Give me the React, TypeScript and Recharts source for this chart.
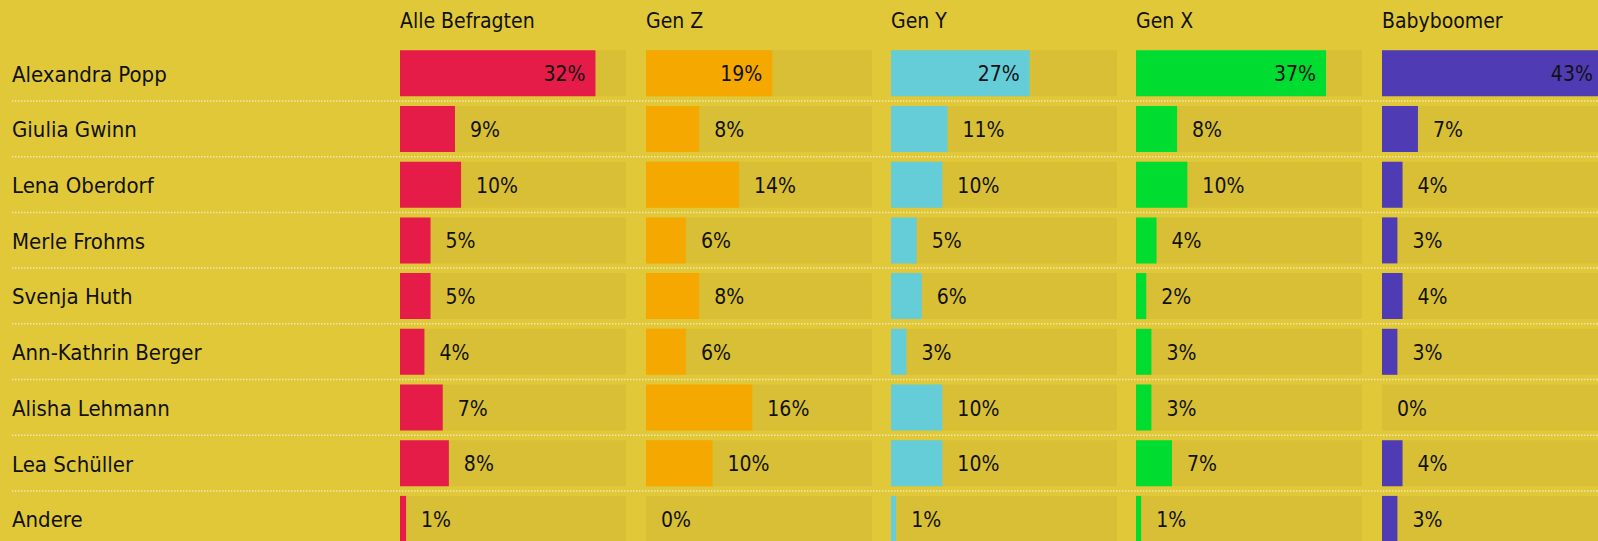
import React from 'react';
import { BarChart, Bar, XAxis, YAxis, CartesianGrid, LabelList } from 'recharts';

// ---- data ----
const players = [
  'Alexandra Popp',
  'Giulia Gwinn',
  'Lena Oberdorf',
  'Merle Frohms',
  'Svenja Huth',
  'Ann-Kathrin Berger',
  'Alisha Lehmann',
  'Lea Schüller',
  'Andere',
];
const groups = ['Alle Befragten', 'Gen Z', 'Gen Y', 'Gen X', 'Babyboomer'];
const alleBefragten = [32, 9, 10, 5, 5, 4, 7, 8, 1];
const genZ = [19, 8, 14, 6, 8, 6, 16, 10, 0];
const genY = [27, 11, 10, 5, 6, 3, 10, 10, 1];
const genX = [37, 8, 10, 4, 2, 3, 3, 7, 1];
const babyboomer = [43, 7, 4, 3, 4, 3, 0, 4, 3];
const groupValues = [alleBefragten, genZ, genY, genX, babyboomer];
const groupColors = ['#E61C48', '#F5A800', '#64CDD8', '#00DC30', '#4F3CB4'];
const axisMax = [37, 34, 44, 44, 44];

// ---- style / layout ----
const W = 1598;
const H = 541;
const CH = 560;
const MT = 45.3;
const BAND = 55.7;
const MB = CH - MT - BAND * players.length;
const BG = '#E0C838';
const TRACK = '#D8BF36';
const FONT = "'Liberation Sans Narrow', 'DejaVu Sans Condensed', 'Roboto Condensed', sans-serif";
const panelLeft = [400, 646, 891, 1136, 1382];
const TRACK_W = 226;
const BAR_H = 46;

const nameData = players.map((name) => ({ name, v: 0 }));

const NameTick = (props: any) => {
  const { y, payload } = props;
  return (
    <text x={12} y={y + 8.5} fontSize={22} fontFamily={FONT} fill="#111" textAnchor="start">
      {payload.value}
    </text>
  );
};

const makeLabel = (inside: number, max: number) => (props: any) => {
  const { x, y, width, height, value } = props;
  const cy = y + height / 2;
  const barEnd = x + (width * value) / max;
  const isIn = value >= inside;
  return (
    <text
      x={isIn ? barEnd - 10 : barEnd + 15}
      y={cy + 8}
      fontSize={21}
      fontFamily={FONT}
      fill="#111"
      textAnchor={isIn ? 'end' : 'start'}
    >
      {`${value}%`}
    </text>
  );
};

const gridGen = (args: any) => {
  const yAxis = args.yAxis;
  const out: number[] = [];
  for (let i = 1; i < players.length; i++) {
    let c: number | undefined;
    try {
      const s = yAxis && yAxis.scale;
      const v = s ? s(players[i]) : undefined;
      if (typeof v === 'number' && !isNaN(v)) c = v;
    } catch (e) {
      c = undefined;
    }
    if (c === undefined) c = args.offset.top + (i * args.offset.height) / players.length;
    out.push(c);
  }
  return out;
};

export default function App() {
  return (
    <div
      style={{
        position: 'absolute',
        left: 0,
        top: 0,
        width: W,
        height: H,
        background: BG,
        overflow: 'hidden',
      }}
    >
      {/* names + separators */}
      <div style={{ position: 'absolute', left: 0, top: 0 }}>
        <BarChart
          width={W}
          height={CH}
          data={nameData}
          layout="vertical"
          margin={{ top: MT, right: 0, bottom: MB, left: 0 }}
          barCategoryGap={0}
        >
          <CartesianGrid
            vertical={false}
            stroke="#EFE6B4"
            strokeWidth={1.5}
            strokeDasharray="1.5 1.5"
            horizontalCoordinatesGenerator={gridGen}
          />
          <XAxis type="number" hide domain={[0, 1]} />
          <YAxis
            type="category"
            dataKey="name"
            width={12}
            axisLine={false}
            tickLine={false}
            tick={<NameTick />}
            interval={0}
          />
          <Bar dataKey="v" fill="transparent" isAnimationActive={false} />
        </BarChart>
      </div>

      {/* headers */}
      <svg style={{ position: 'absolute', left: 0, top: 0 }} width={W} height={40}>
        {groups.map((g, i) => (
          <text key={g} x={panelLeft[i]} y={28} fontSize={21} fontFamily={FONT} fill="#111">
            {g}
          </text>
        ))}
      </svg>

      {/* panels */}
      {groups.map((g, gi) => {
        const data = players.map((name, i) => ({
          name,
          track: axisMax[gi],
          value: groupValues[gi][i],
        }));
        return (
          <div key={g} style={{ position: 'absolute', left: panelLeft[gi], top: 0 }}>
            <BarChart
              width={TRACK_W}
              height={CH}
              data={data}
              layout="vertical"
              margin={{ top: MT, right: 0, bottom: MB, left: 0 }}
              barGap={-BAR_H}
              style={{ overflow: 'visible' }}
            >
              <XAxis type="number" hide domain={[0, axisMax[gi]]} />
              <YAxis type="category" dataKey="name" hide />
              <Bar dataKey="track" fill={TRACK} barSize={BAR_H} isAnimationActive={false} />
              <Bar dataKey="value" fill={groupColors[gi]} barSize={BAR_H} isAnimationActive={false} />
              <Bar dataKey="track" fill="transparent" barSize={BAR_H} isAnimationActive={false}>
                <LabelList dataKey="value" content={makeLabel(18, axisMax[gi])} />
              </Bar>
            </BarChart>
          </div>
        );
      })}
    </div>
  );
}
